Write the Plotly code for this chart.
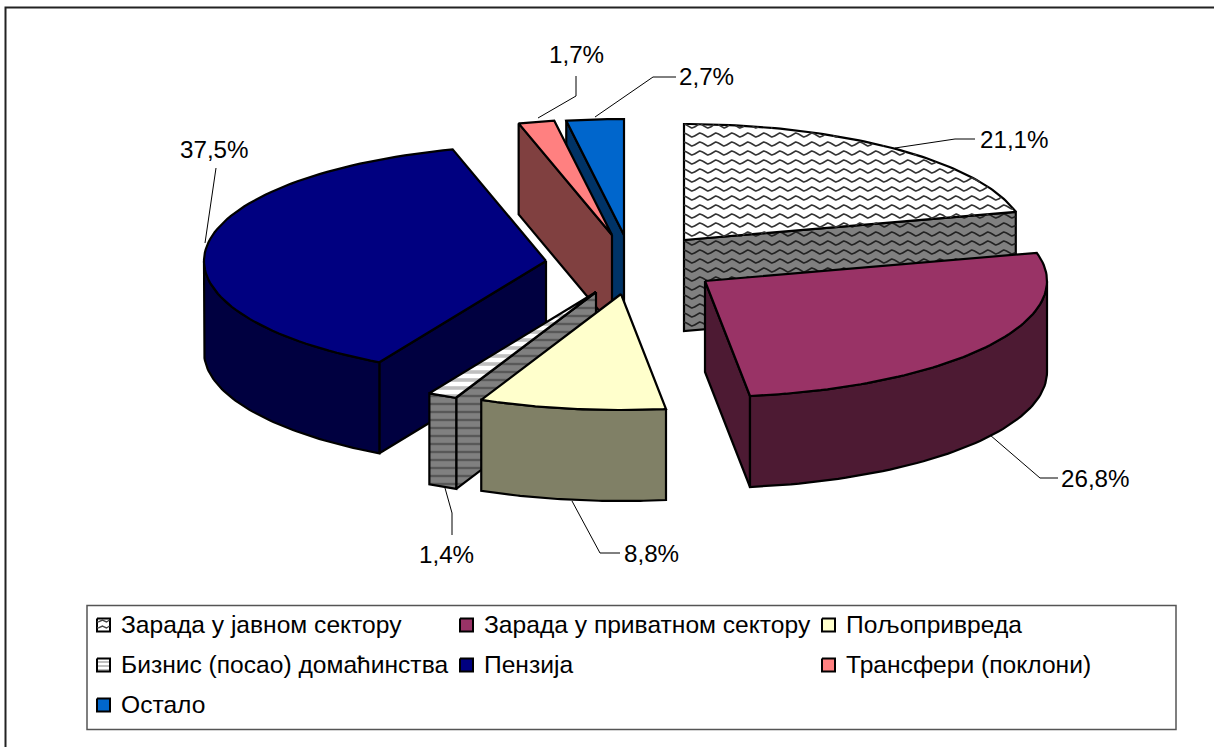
import numpy as np
import plotly.graph_objects as go

# ---- data ----
categories = ["Зарада у јавном сектору", "Зарада у приватном сектору", "Пољопривреда",
              "Бизнис (посао) домаћинства", "Пензија", "Трансфери (поклони)", "Остало"]
values = [21.1, 26.8, 8.8, 1.4, 37.5, 1.7, 2.7]
value_labels = ["21,1%", "26,8%", "8,8%", "1,4%", "37,5%", "1,7%", "2,7%"]

# ---- styles / layout ----
W, H = 1214, 747
RX, RY, DEPTH = 342, 116, 91
ORIGINS = [(684, 240), (705, 281), (621, 294), (596, 292), (546, 261), (612, 235), (624, 235)]
DRAW_ORDER = [0, 6, 5, 4, 3, 2, 1]
TOP = ["#FFFFFF", "#993366", "#FFFFCC", "#FFFFFF", "#000080", "#FF8080", "#0066CC"]
SIDE = ["#808080", "#4D1A33", "#808066", "#808080", "#000040", "#804040", "#003366"]
PAT_TOP = [None, None, None,
           dict(shape="-", fgcolor="#808080", bgcolor="#FFFFFF", size=8, solidity=0.45), None, None, None]
PAT_SIDE = [None, None, None,
            dict(shape="-", fgcolor="#303030", bgcolor="#808080", size=8, solidity=0.3), None, None, None]
WAVY = 0  # slice drawn with the wavy fill
LEADERS = [
    ([895, 955, 975], [148, 139, 139]),
    ([990, 1040, 1058], [435, 478, 478]),
    ([572, 600, 620], [501, 553, 553]),
    ([445, 452, 452], [488, 513, 535]),
    ([205, 216, 216], [243, 172, 168]),
    ([538, 576, 576], [118, 96, 76]),
    ([595, 653, 676], [117, 77, 77]),
]
LABEL_POS = [(1014, 139), (1095, 478), (651, 553), (446, 554), (214, 149), (576, 54), (706, 76)]
LEGEND_X = [97, 460, 822]
LEGEND_Y = [625, 665, 705]
FONT = "Liberation Sans, Arial, sans-serif"
FS_LABEL = 24.2
FS_LEGEND = 24.6

fig = go.Figure()


def poly(xs, ys, fill, pat=None, name=None, lw=2.2):
    kw = dict(fillpattern=pat) if pat else dict(fillcolor=fill)
    fig.add_trace(go.Scatter(x=list(xs), y=list(ys), mode="lines", fill="toself",
                             line=dict(color="#000000", width=lw), name=name,
                             hoverinfo="skip", showlegend=False, **kw))


def inside(px, py, xs, ys):
    xs, ys = np.asarray(xs, float), np.asarray(ys, float)
    res = np.zeros(px.shape, bool)
    for j in range(len(xs) - 1):
        x1, y1, x2, y2 = xs[j], ys[j], xs[j + 1], ys[j + 1]
        if y1 == y2:
            continue
        cross = (y1 > py) != (y2 > py)
        res ^= cross & (px < x1 + (py - y1) * (x2 - x1) / (y2 - y1))
    return res


def texture(xs, ys, color, spacing=9.0, period=16.0, amp=2.0, width=1.6):
    """Wavy hatch fill clipped to a polygon (fill style only, carries no data)."""
    xs, ys = np.asarray(xs, float), np.asarray(ys, float)
    grid = np.arange(xs.min(), xs.max() + 0.5, 0.5)
    tx, ty = [], []
    r0 = np.floor((ys.min() - 135) / spacing) * spacing + 135
    for row in np.arange(r0, ys.max() + spacing, spacing):
        wy = row + amp * np.sin(2 * np.pi * grid / period)
        keep = inside(grid, wy, xs, ys)
        tx.extend(np.where(keep, grid, np.nan).tolist() + [None])
        ty.extend(np.where(keep, wy, np.nan).tolist() + [None])
    tx = [None if v is None or np.isnan(v) else v for v in tx]
    ty = [None if v is None or np.isnan(v) else v for v in ty]
    fig.add_trace(go.Scatter(x=tx, y=ty, mode="lines", line=dict(color=color, width=width),
                             connectgaps=False, hoverinfo="skip", showlegend=False))


def pt(o, a, dz=0):
    r = np.radians(a)
    return o[0] + RX * np.sin(r), o[1] - RY * np.cos(r) + dz


edges = np.concatenate([[0], np.cumsum(values)]) * 3.6
for i in DRAW_ORDER:
    o = ORIGINS[i]
    a0, a1 = edges[i], edges[i + 1]
    # flat cut faces that turn towards the viewer
    for a, normal in ((a0, a0 - 90), (a1, a1 + 90)):
        if np.cos(np.radians(normal)) < -1e-6:
            x, y = pt(o, a)
            fx, fy = [o[0], x, x, o[0], o[0]], [o[1], y, y + DEPTH, o[1] + DEPTH, o[1]]
            poly(fx, fy, SIDE[i], PAT_SIDE[i], categories[i])
            if i == WAVY:
                texture(fx, fy, "#222222")
    # outer rim, front half only
    lo, hi = max(a0, 90), min(a1, 270)
    if lo < hi:
        t = np.linspace(lo, hi, 60)
        x, y = pt(o, t)
        poly(np.r_[x, x[::-1], x[0]], np.r_[y, y[::-1] + DEPTH, y[0]],
             SIDE[i], PAT_SIDE[i], categories[i])
    # top face
    t = np.linspace(a0, a1, 80)
    x, y = pt(o, t)
    fx, fy = np.r_[o[0], x, o[0]], np.r_[o[1], y, o[1]]
    poly(fx, fy, TOP[i], PAT_TOP[i], categories[i])
    if i == WAVY:
        texture(fx, fy, "#333333")

# leader lines
for lx, ly in LEADERS:
    fig.add_trace(go.Scatter(x=lx, y=ly, mode="lines", line=dict(color="#000000", width=1),
                             hoverinfo="skip", showlegend=False))

annotations = [dict(x=p[0], y=p[1], text=s, showarrow=False, xanchor="center", yanchor="middle",
                    font=dict(family=FONT, size=FS_LABEL, color="#000000"))
               for s, p in zip(value_labels, LABEL_POS)]

# legend block
LEG_PAT = [None, None, None,
           dict(shape="-", fgcolor="#808080", bgcolor="#FFFFFF", size=4, solidity=0.5), None, None, None]
for i, cat in enumerate(categories):
    cx, cy = LEGEND_X[i % 3], LEGEND_Y[i // 3]
    sx = [cx, cx + 13, cx + 13, cx, cx]
    sy = [cy - 6.5, cy - 6.5, cy + 6.5, cy + 6.5, cy - 6.5]
    poly(sx, sy, TOP[i], LEG_PAT[i], cat, lw=2)
    if i == WAVY:
        texture(sx, sy, "#444444", spacing=6, period=8, amp=1, width=1.3)
    annotations.append(dict(x=cx + 21.5, y=cy - 1, text=cat, showarrow=False, xanchor="left", yanchor="middle",
                            font=dict(family=FONT, size=FS_LEGEND, color="#000000")))

shapes = [
    # chart frame: only its left and top edges fall inside the picture
    dict(type="rect", xref="x", yref="y", x0=5.5, y0=7.5, x1=W + 10, y1=H + 10,
         line=dict(color="#222222", width=2), layer="below"),
    dict(type="rect", xref="x", yref="y", x0=87, y0=605.5, x1=1176, y1=729.5,
         line=dict(color="#555555", width=1.5), layer="below"),
]

fig.update_layout(
    width=W, height=H, margin=dict(l=0, r=0, t=0, b=0), autosize=False,
    paper_bgcolor="#FFFFFF", plot_bgcolor="#FFFFFF", showlegend=False,
    xaxis=dict(range=[0, W], visible=False, fixedrange=True),
    yaxis=dict(range=[H, 0], visible=False, fixedrange=True),
    annotations=annotations, shapes=shapes,
)
fig.write_html("out.html", config={"displayModeBar": False},
               post_script="document.body.style.margin='0';document.documentElement.style.overflow='hidden';")
